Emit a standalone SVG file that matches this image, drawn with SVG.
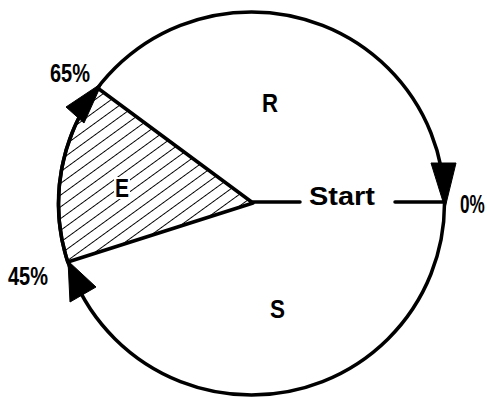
<svg xmlns="http://www.w3.org/2000/svg" width="490" height="398" viewBox="0 0 490 398">
<style>
.lbl{font-family:"Liberation Sans","DejaVu Sans",Arial,sans-serif;font-weight:bold;font-size:26px;fill:#000}
.ln{stroke:#000;stroke-width:3.5;fill:none;stroke-linecap:round;stroke-linejoin:round}
.arr{fill:#000;stroke:#000;stroke-width:1;stroke-linejoin:round}
</style>
<defs>
<pattern id="hatch" width="40" height="9.5" patternUnits="userSpaceOnUse" patternTransform="rotate(-36) translate(0,3)">
<line x1="-5" y1="0" x2="45" y2="0" stroke="#000" stroke-width="2"/>
</pattern>
</defs>
<rect width="490" height="398" fill="#fff"/>
<g id="sector-E">
<path d="M253,203 L97.6,88 A193,191.5 0 0 0 67.7,262 Z" class="ln" style="fill:url(#hatch)"/>
<rect x="114" y="177" width="16" height="22" fill="#fff"/>
<text class="lbl" x="115" y="197" textLength="14" lengthAdjust="spacingAndGlyphs">E</text>
</g>
<g id="cycle">
<ellipse cx="251.5" cy="203.5" rx="193" ry="191.5" class="ln"/>
</g>
<g id="region-R">
<text class="lbl" x="262" y="112" textLength="16" lengthAdjust="spacingAndGlyphs">R</text>
</g>
<g id="region-S">
<text class="lbl" x="270" y="318" textLength="15" lengthAdjust="spacingAndGlyphs">S</text>
</g>
<g id="connectors">
<line x1="253" y1="202" x2="300" y2="202" class="ln"/>
<line x1="395" y1="202" x2="445" y2="202" class="ln"/>
<polygon class="arr" points="431,163 456,163 445,208"/>
<polygon class="arr" points="102,83 66,107 84,123"/>
<polygon class="arr" points="68,261 70,302 96,287"/>
</g>
<g id="start">
<text class="lbl" x="309" y="205" textLength="66" lengthAdjust="spacingAndGlyphs">Start</text>
</g>
<g id="labels">
<text class="lbl" transform="translate(460,213) scale(0.66,1)" x="0" y="0">0%</text>
<text class="lbl" x="50" y="82" textLength="40" lengthAdjust="spacingAndGlyphs">65%</text>
<text class="lbl" x="8" y="285" textLength="40" lengthAdjust="spacingAndGlyphs">45%</text>
</g>
</svg>
